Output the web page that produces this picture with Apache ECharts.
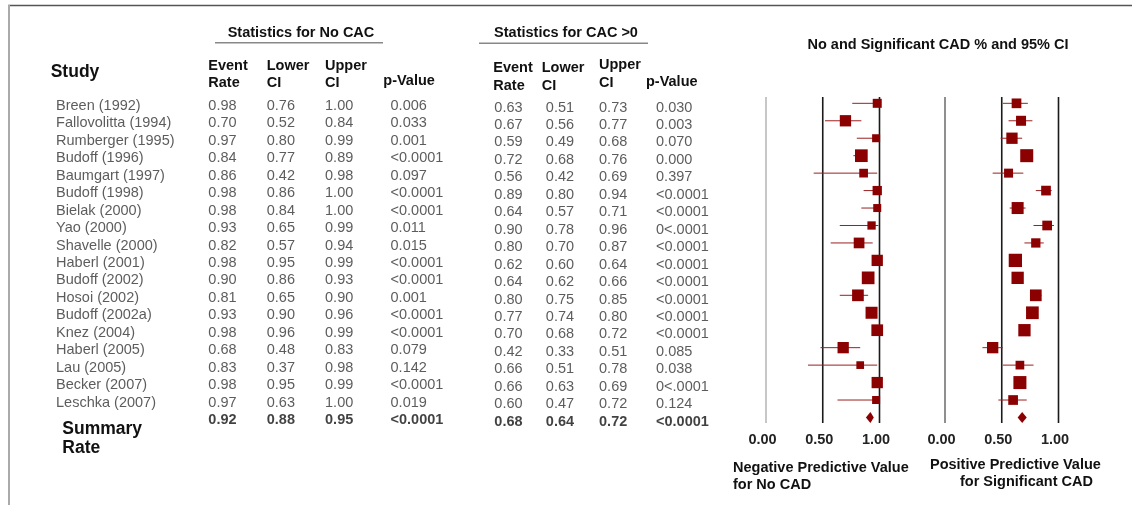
<!DOCTYPE html>
<html><head><meta charset="utf-8">
<script src="https://cdn.jsdelivr.net/npm/echarts@6/dist/echarts.min.js"></script>
<style>html,body{margin:0;padding:0;background:#fff}#c{width:1132px;height:505px}</style>
</head><body><div id="c"></div>
<script>
// ---------- data ----------
const studies = ['Breen (1992)','Fallovolitta (1994)','Rumberger (1995)','Budoff (1996)','Baumgart (1997)','Budoff (1998)','Bielak (2000)','Yao (2000)','Shavelle (2000)','Haberl (2001)','Budoff (2002)','Hosoi (2002)','Budoff (2002a)','Knez (2004)','Haberl (2005)','Lau (2005)','Becker (2007)','Leschka (2007)'];
const noCacRate  = [0.98,0.70,0.97,0.84,0.86,0.98,0.98,0.93,0.82,0.98,0.90,0.81,0.93,0.98,0.68,0.83,0.98,0.97];
const noCacLower = [0.76,0.52,0.80,0.77,0.42,0.86,0.84,0.65,0.57,0.95,0.86,0.65,0.90,0.96,0.48,0.37,0.95,0.63];
const noCacUpper = [1.00,0.84,0.99,0.89,0.98,1.00,1.00,0.99,0.94,0.99,0.93,0.90,0.96,0.99,0.83,0.98,0.99,1.00];
const noCacP = ['0.006','0.033','0.001','<0.0001','0.097','<0.0001','<0.0001','0.011','0.015','<0.0001','<0.0001','0.001','<0.0001','<0.0001','0.079','0.142','<0.0001','0.019'];
const noCacSummary = [0.92, 0.88, 0.95];
const noCacSummaryP = '<0.0001';
const cacRate  = [0.63,0.67,0.59,0.72,0.56,0.89,0.64,0.90,0.80,0.62,0.64,0.80,0.77,0.70,0.42,0.66,0.66,0.60];
const cacLower = [0.51,0.56,0.49,0.68,0.42,0.80,0.57,0.78,0.70,0.60,0.62,0.75,0.74,0.68,0.33,0.51,0.63,0.47];
const cacUpper = [0.73,0.77,0.68,0.76,0.69,0.94,0.71,0.96,0.87,0.64,0.66,0.85,0.80,0.72,0.51,0.78,0.69,0.72];
const cacP = ['0.030','0.003','0.070','0.000','0.397','<0.0001','<0.0001','0<.0001','<0.0001','<0.0001','<0.0001','<0.0001','<0.0001','<0.0001','0.085','0.038','0<.0001','0.124'];
const cacSummary = [0.68, 0.64, 0.72];
const cacSummaryP = '<0.0001';
// study weights (relative marker size)
const npvWeight = [9,11.3,8,12.7,8.7,9.3,8,8.3,10.7,11.3,12.7,11.7,12,11.7,11.3,7.7,11.3,8];
const ppvWeight = [9.7,10,11.3,13,9,9.7,12,9.7,9.3,13.3,12.3,11.7,12.7,12.3,11.3,8.7,13,9.7];
const axisTicks = [0, 0.5, 1.0];

// ---------- layout / style ----------
const FONT = '"Liberation Sans", Arial, sans-serif';
const FS = 14.5;
const RED = '#8b0000';
const N = studies.length + 1; // rows incl. summary
const gridTop = 94.6, gridH = 331.6;
const leftCols = [56, 208.3, 266.7, 325, 390.5];
const rightCols = [494.3, 545.8, 599, 656];

const chart = echarts.init(document.getElementById('c'), null, {renderer:'canvas'});

function forestGrid(left){ return {left:left, width:113.5, top:gridTop, height:gridH, containLabel:false}; }
function hiddenY(gi){ return {gridIndex:gi, type:'value', inverse:true, min:-0.5, max:N-0.5, show:false}; }

const grids = [forestGrid(766), forestGrid(945),
  {left:0, width:1132, top:gridTop+2.6, height:gridH},
  {left:0, width:1132, top:gridTop+4.2, height:gridH}];
const xAxes = [0,1].map(gi => ({gridIndex:gi, type:'value', min:0, max:1, interval:0.5,
    axisLine:{show:false}, axisTick:{show:false}, splitLine:{show:false},
    axisLabel:{show:true, margin:6, fontFamily:FONT, fontSize:FS, fontWeight:'bold', color:'#222',
      padding:[0,7,0,0], formatter: v => axisTicks.indexOf(v) >= 0 ? v.toFixed(2) : ''}}))
  .concat([2,3].map(gi => ({gridIndex:gi, type:'value', min:0, max:1132, show:false})));
const yAxes = [0,1,2,3].map(hiddenY);

function refLines(gi, zeroColor){
  return {type:'custom', xAxisIndex:gi, yAxisIndex:gi, silent:true, z:1,
    data: axisTicks.map(v => [v]),
    renderItem:(params, api) => {
      const v = api.value(0);
      const p1 = api.coord([v, -0.36]), p2 = api.coord([v, N-0.5-0.18]);
      return {type:'line', shape:{x1:p1[0], y1:p1[1], x2:p2[0], y2:p2[1]},
        style:{stroke: v === 0 ? zeroColor : '#1a1a1a', lineWidth: v === 0 ? 1.5 : 1.6}};
    }};
}
function ciSeries(gi, lo, hi){
  return {type:'custom', xAxisIndex:gi, yAxisIndex:gi, silent:true, z:2,
    data: lo.map((l,i) => [l, hi[i], i]),
    renderItem:(params, api) => {
      const a = api.coord([api.value(0), api.value(2)]), b = api.coord([api.value(1), api.value(2)]);
      return {type:'line', shape:{x1:a[0], y1:a[1], x2:b[0], y2:b[1]}, style:{stroke:'#9a2020', lineWidth:1}};
    }};
}
function squares(gi, rate, w){
  return {type:'scatter', xAxisIndex:gi, yAxisIndex:gi, silent:true, z:3, symbol:'rect',
    data: rate.map((r,i) => [r, i, w[i]]), symbolSize: d => d[2],
    itemStyle:{color:RED, opacity:1}};
}
function diamond(gi, s){
  return {type:'custom', xAxisIndex:gi, yAxisIndex:gi, silent:true, z:3,
    data:[[s[0], s[1], s[2], N-1]],
    renderItem:(params, api) => {
      const y = api.value(3);
      const c = api.coord([api.value(0), y]), l = api.coord([api.value(1), y]), r = api.coord([api.value(2), y]);
      const h = 5.5;
      return {type:'polygon', shape:{points:[[l[0],c[1]],[c[0],c[1]-h],[r[0],c[1]],[c[0],c[1]+h]]}, style:{fill:RED}};
    }};
}
function textColumn(gi, x, texts, summaryText){
  const data = texts.map((t,i) => ({value:[x, i], name:t}));
  if (summaryText !== null) data.push({value:[x, N-1], name:summaryText, label:{fontWeight:'bold', color:'#111'}});
  return {type:'scatter', xAxisIndex:gi, yAxisIndex:gi, silent:true, symbolSize:0.1,
    itemStyle:{color:'transparent'}, data:data,
    label:{show:true, position:'right', distance:0, formatter:'{b}', fontFamily:FONT, fontSize:FS, color:'#333'}};
}
const f2 = a => a.map(v => v.toFixed(2));

const series = [
  refLines(0, '#b5b5b5'), refLines(1, '#6a6a6a'),
  ciSeries(0, noCacLower, noCacUpper), ciSeries(1, cacLower, cacUpper),
  squares(0, noCacRate, npvWeight), squares(1, cacRate, ppvWeight),
  diamond(0, noCacSummary), diamond(1, cacSummary),
  textColumn(2, leftCols[0], studies, null),
  textColumn(2, leftCols[1], f2(noCacRate), noCacSummary[0].toFixed(2)),
  textColumn(2, leftCols[2], f2(noCacLower), noCacSummary[1].toFixed(2)),
  textColumn(2, leftCols[3], f2(noCacUpper), noCacSummary[2].toFixed(2)),
  textColumn(2, leftCols[4], noCacP, noCacSummaryP),
  textColumn(3, rightCols[0], f2(cacRate), cacSummary[0].toFixed(2)),
  textColumn(3, rightCols[1], f2(cacLower), cacSummary[1].toFixed(2)),
  textColumn(3, rightCols[2], f2(cacUpper), cacSummary[2].toFixed(2)),
  textColumn(3, rightCols[3], cacP, cacSummaryP)
];

function txt(x, y, s, opt){
  return Object.assign({type:'text', x:x, y:y, silent:true,
    style:Object.assign({text:s, font:'bold ' + FS + 'px ' + FONT, fill:'#111', textAlign:'left', textVerticalAlign:'middle'}, opt||{})});
}
function ln(x1,y1,x2,y2,stroke,w){ return {type:'line', silent:true, shape:{x1,y1,x2,y2}, style:{stroke, lineWidth:w}}; }
const big = 'bold 17.5px ' + FONT;
const graphics = [
  ln(8, 5.5, 1132, 5.5, '#555', 1.5),
  ln(9, 5, 9, 505, '#aaa', 2),
  txt(301, 33.3, 'Statistics for No CAC', {textAlign:'center'}),
  ln(215, 42.7, 383, 42.7, '#888', 1.5),
  txt(566, 33, 'Statistics for CAC >0', {textAlign:'center'}),
  ln(479, 43.3, 648, 43.3, '#888', 1.5),
  txt(50.7, 71.7, 'Study', {font:big}),
  txt(208.3, 65.7, 'Event'), txt(208.3, 82.7, 'Rate'),
  txt(266.7, 65.7, 'Lower'), txt(266.7, 82.7, 'CI'),
  txt(325, 65.7, 'Upper'), txt(325, 82.7, 'CI'),
  txt(383.3, 81, 'p-Value'),
  txt(493.3, 68.3, 'Event'), txt(493.3, 86, 'Rate'),
  txt(541.7, 68.3, 'Lower'), txt(541.7, 86, 'CI'),
  txt(599, 65, 'Upper'), txt(599, 82.7, 'CI'),
  txt(646, 81.7, 'p-Value'),
  txt(62.3, 429.3, 'Summary', {font:big}),
  txt(62.3, 448.3, 'Rate', {font:big}),
  txt(938, 45, 'No and Significant CAD % and 95% CI', {textAlign:'center'}),
  txt(733, 467.7, 'Negative Predictive Value'),
  txt(733, 485, 'for No CAD'),
  txt(930, 465, 'Positive Predictive Value'),
  txt(960, 482, 'for Significant CAD')
];

chart.setOption({
  animation:false,
  backgroundColor:'#fff',
  grid:grids, xAxis:xAxes, yAxis:yAxes, series:series, graphic:graphics
});
</script></body></html>
